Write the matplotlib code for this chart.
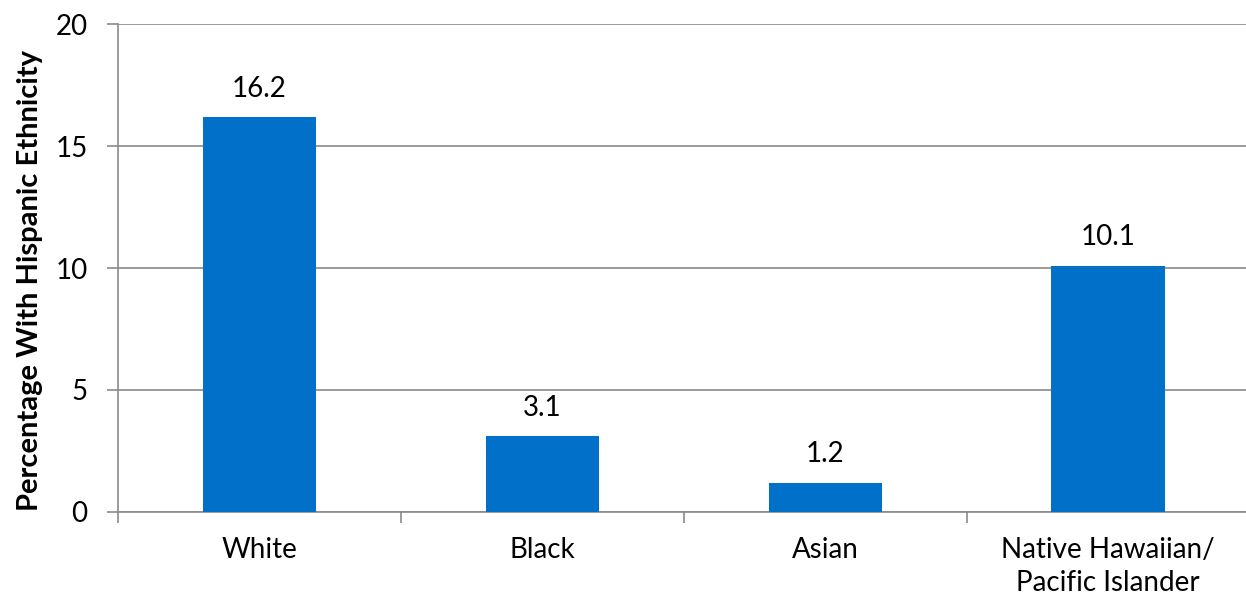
import matplotlib.pyplot as plt
import numpy as np

plt.rcParams['font.family'] = ['Lato', 'DejaVu Sans']

categories = ["White", "Black", "Asian", "Native Hawaiian/\nPacific Islander"]
values = [16.2, 3.1, 1.2, 10.1]
y_ticks = [0, 5, 10, 15, 20]

bar_color = '#0070C8'
grid_color = '#8a8a8a'

fig = plt.figure(figsize=(12.46, 6.03), dpi=100)
ax = fig.add_axes([0.0947, 0.151, 0.908, 0.809])

x = np.arange(len(categories))
ax.bar(x, values, width=0.4, color=bar_color, zorder=3)

for xi, v in zip(x, values):
    ax.annotate(f"{v}", (xi, v), xytext=(0, 11), textcoords='offset points',
                ha='center', va='bottom', fontsize=20)

ax.set_xlim(-0.5, len(categories) - 0.5)
ax.set_ylim(0, 20)
ax.set_yticks(y_ticks)
ax.yaxis.grid(True, color=grid_color, lw=1.2, zorder=0)

ax.set_xticks(x)
ax.set_xticklabels(categories, fontsize=20, linespacing=1.35)
ax.tick_params(axis='x', length=0, pad=18)
ax.set_xticks(np.arange(-0.5, len(categories)), minor=True)
ax.tick_params(axis='x', which='minor', length=8, color=grid_color, width=1.2)
ax.tick_params(axis='y', length=8, color=grid_color, width=1.2, labelsize=20, pad=14)

for s in ['top', 'right']:
    ax.spines[s].set_visible(False)
for s in ['left', 'bottom']:
    ax.spines[s].set_color(grid_color)
    ax.spines[s].set_linewidth(1.2)

ax.set_ylabel("Percentage With Hispanic Ethnicity", fontsize=21, fontweight='bold',
              labelpad=9, y=0.475)

plt.savefig("out.png", dpi=100)
